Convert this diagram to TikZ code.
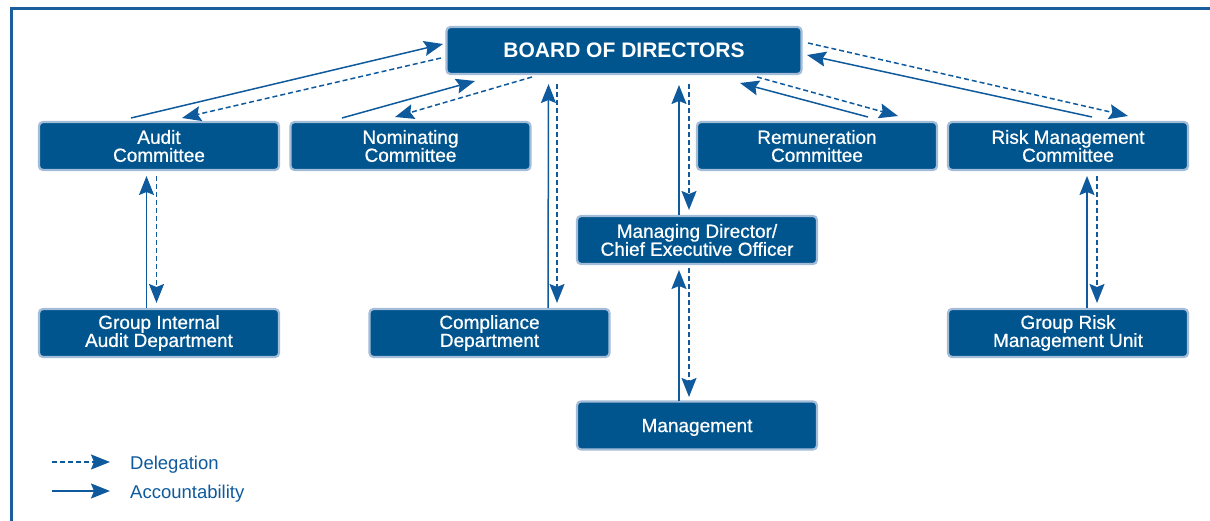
\documentclass[tikz,border=0pt]{standalone}
\usepackage{fontspec}
\setmainfont{Liberation Sans}
\newfontfamily\medsans[FakeBold=0.7]{Liberation Sans}
\usetikzlibrary{calc,arrows.meta}
\definecolor{boxblue}{HTML}{00558F}
\definecolor{boxedge}{HTML}{A3BCD8}
\definecolor{linkblue}{HTML}{0E5A9C}
\definecolor{framecol}{HTML}{1B5E9E}
\tikzset{
  orgbox/.style={rectangle, rounded corners=4pt, fill=boxblue, draw=boxedge, line width=2.2pt,
    minimum width=240pt, minimum height=48pt, inner sep=0pt, text=white, align=center,
    font=\medsans\fontsize{19}{18}\selectfont},
  boardbox/.style={orgbox, minimum width=355pt, minimum height=47pt,
    font=\fontsize{21}{21}\selectfont\bfseries},
  acc/.style={draw=linkblue, line width=1.5pt, -{Stealth[length=19pt,width=15pt,inset=3pt]}},
  dele/.style={acc, dash pattern=on 5pt off 3pt},
  legtext/.style={anchor=west, inner sep=0pt, text=linkblue, font=\fontsize{18.5}{18}\selectfont}
}
\begin{document}
\begin{tikzpicture}[x=1pt,y=-1pt]
\useasboundingbox (0,0) rectangle (1210,521);
% frame
\draw[framecol, line width=3pt] (11,521) -- (11,9) -- (1210,9);

% nodes
\node[boardbox, text depth=0pt] (board) at (624,50.5) {BOARD OF DIRECTORS};
\node[orgbox] (audit) at (159,146) {Audit\\Committee};
\node[orgbox] (nom) at (410.5,146) {Nominating\\Committee};
\node[orgbox] (rem) at (817,146) {Remuneration\\Committee};
\node[orgbox] (risk) at (1068,146) {Risk Management\\Committee};
\node[orgbox] (md) at (697,240) {Managing Director/\\Chief Executive Officer};
\node[orgbox, text depth=0pt] (mgmt) at (697,425.5) {Management};
\node[orgbox] (gia) at (159,333) {Group Internal\\Audit Department};
\node[orgbox] (comp) at (489.5,333) {Compliance\\Department};
\node[orgbox] (gru) at (1068,333) {Group Risk\\Management Unit};

% audit committee <-> board
\draw[acc]  ($(audit)+(-28,-28)$) -- ($(board)+(-181,-6.5)$);
\draw[dele] ($(board)+(-183,7.5)$) -- ($(audit)+(23,-28)$);
% nominating <-> board
\draw[acc]  ($(nom)+(-68.5,-28)$) -- ($(board)+(-149,30.5)$);
\draw[dele] ($(board)+(-92,26.5)$) -- ($(nom)+(-15.5,-29)$);
% compliance <-> board
\draw[acc]  ($(comp)+(58.5,-25)$) -- ($(board)+(-75.5,33.5)$);
\draw[dele] ($(board)+(-67,33.5)$) -- ($(comp)+(67.5,-30)$);
% MD <-> board
\draw[acc]  ($(md)+(-18,-25)$) -- ($(board)+(55,34.5)$);
\draw[dele] ($(board)+(65,33.5)$) -- ($(md)+(-8,-30)$);
% management <-> MD
\draw[acc]  ($(mgmt)+(-18,-24.5)$) -- ($(md)+(-18,30)$);
\draw[dele] ($(md)+(-8,28)$) -- ($(mgmt)+(-8,-28.5)$);
% remuneration <-> board
\draw[acc]  ($(rem)+(51,-29)$) -- ($(board)+(116,32.5)$);
\draw[dele] ($(board)+(133,26.5)$) -- ($(rem)+(81,-30)$);
% risk <-> board
\draw[acc]  ($(risk)+(24,-29)$) -- ($(board)+(183,4.5)$);
\draw[dele] ($(board)+(184,-7.5)$) -- ($(risk)+(60,-30)$);
% GIA <-> audit committee
\draw[acc]  ($(gia)+(-12.5,-25)$) -- ($(audit)+(-12.5,30)$);
\draw[dele] ($(audit)+(-2.5,30)$) -- ($(gia)+(-2.5,-30)$);
% GRU <-> risk committee
\draw[acc]  ($(gru)+(19,-25)$) -- ($(risk)+(19,30)$);
\draw[dele] ($(risk)+(29,30)$) -- ($(gru)+(29,-30)$);

% legend
\node[legtext] (dleg) at (130,464.5) {Delegation};
\node[legtext] (aleg) at (130,493.5) {Accountability};
\coordinate (dstart) at (52,462);
\coordinate (astart) at (52,491);
\draw[dele] (dstart) -- ($(dleg.west)+(-20,-2.5)$);
\draw[acc]  (astart) -- ($(aleg.west)+(-20,-2.5)$);
\end{tikzpicture}
\end{document}
